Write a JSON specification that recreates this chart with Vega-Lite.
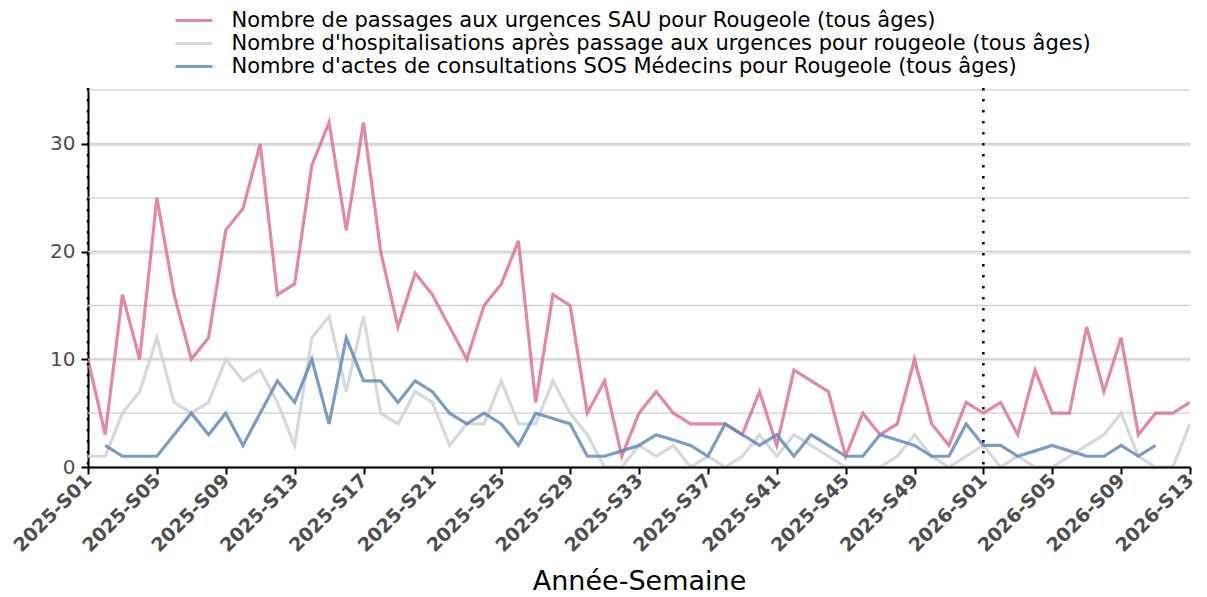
{
  "$schema": "https://vega.github.io/schema/vega-lite/v6.json",
  "width": 1102,
  "height": 379,
  "autosize": {"type": "none"},
  "padding": {"left": 88, "top": 88, "right": 17, "bottom": 130},
  "config": {"view": {"stroke": null}, "font": "DejaVu Sans"},
  "datasets": {
    "grid": [{"v": 5}, {"v": 10}, {"v": 15}, {"v": 20}, {"v": 25}, {"v": 30}, {"v": 35}],
    "vlines": [{"w": "2025-S01"}, {"w": "2026-S01"}],
    "series": [
      {"w": "2025-S01", "s": "Nombre de passages aux urgences SAU pour Rougeole (tous âges)", "v": 10},
      {"w": "2025-S02", "s": "Nombre de passages aux urgences SAU pour Rougeole (tous âges)", "v": 3},
      {"w": "2025-S03", "s": "Nombre de passages aux urgences SAU pour Rougeole (tous âges)", "v": 16},
      {"w": "2025-S04", "s": "Nombre de passages aux urgences SAU pour Rougeole (tous âges)", "v": 10},
      {"w": "2025-S05", "s": "Nombre de passages aux urgences SAU pour Rougeole (tous âges)", "v": 25},
      {"w": "2025-S06", "s": "Nombre de passages aux urgences SAU pour Rougeole (tous âges)", "v": 16},
      {"w": "2025-S07", "s": "Nombre de passages aux urgences SAU pour Rougeole (tous âges)", "v": 10},
      {"w": "2025-S08", "s": "Nombre de passages aux urgences SAU pour Rougeole (tous âges)", "v": 12},
      {"w": "2025-S09", "s": "Nombre de passages aux urgences SAU pour Rougeole (tous âges)", "v": 22},
      {"w": "2025-S10", "s": "Nombre de passages aux urgences SAU pour Rougeole (tous âges)", "v": 24},
      {"w": "2025-S11", "s": "Nombre de passages aux urgences SAU pour Rougeole (tous âges)", "v": 30},
      {"w": "2025-S12", "s": "Nombre de passages aux urgences SAU pour Rougeole (tous âges)", "v": 16},
      {"w": "2025-S13", "s": "Nombre de passages aux urgences SAU pour Rougeole (tous âges)", "v": 17},
      {"w": "2025-S14", "s": "Nombre de passages aux urgences SAU pour Rougeole (tous âges)", "v": 28},
      {"w": "2025-S15", "s": "Nombre de passages aux urgences SAU pour Rougeole (tous âges)", "v": 32},
      {"w": "2025-S16", "s": "Nombre de passages aux urgences SAU pour Rougeole (tous âges)", "v": 22},
      {"w": "2025-S17", "s": "Nombre de passages aux urgences SAU pour Rougeole (tous âges)", "v": 32},
      {"w": "2025-S18", "s": "Nombre de passages aux urgences SAU pour Rougeole (tous âges)", "v": 20},
      {"w": "2025-S19", "s": "Nombre de passages aux urgences SAU pour Rougeole (tous âges)", "v": 13},
      {"w": "2025-S20", "s": "Nombre de passages aux urgences SAU pour Rougeole (tous âges)", "v": 18},
      {"w": "2025-S21", "s": "Nombre de passages aux urgences SAU pour Rougeole (tous âges)", "v": 16},
      {"w": "2025-S22", "s": "Nombre de passages aux urgences SAU pour Rougeole (tous âges)", "v": 13},
      {"w": "2025-S23", "s": "Nombre de passages aux urgences SAU pour Rougeole (tous âges)", "v": 10},
      {"w": "2025-S24", "s": "Nombre de passages aux urgences SAU pour Rougeole (tous âges)", "v": 15},
      {"w": "2025-S25", "s": "Nombre de passages aux urgences SAU pour Rougeole (tous âges)", "v": 17},
      {"w": "2025-S26", "s": "Nombre de passages aux urgences SAU pour Rougeole (tous âges)", "v": 21},
      {"w": "2025-S27", "s": "Nombre de passages aux urgences SAU pour Rougeole (tous âges)", "v": 6},
      {"w": "2025-S28", "s": "Nombre de passages aux urgences SAU pour Rougeole (tous âges)", "v": 16},
      {"w": "2025-S29", "s": "Nombre de passages aux urgences SAU pour Rougeole (tous âges)", "v": 15},
      {"w": "2025-S30", "s": "Nombre de passages aux urgences SAU pour Rougeole (tous âges)", "v": 5},
      {"w": "2025-S31", "s": "Nombre de passages aux urgences SAU pour Rougeole (tous âges)", "v": 8},
      {"w": "2025-S32", "s": "Nombre de passages aux urgences SAU pour Rougeole (tous âges)", "v": 1},
      {"w": "2025-S33", "s": "Nombre de passages aux urgences SAU pour Rougeole (tous âges)", "v": 5},
      {"w": "2025-S34", "s": "Nombre de passages aux urgences SAU pour Rougeole (tous âges)", "v": 7},
      {"w": "2025-S35", "s": "Nombre de passages aux urgences SAU pour Rougeole (tous âges)", "v": 5},
      {"w": "2025-S36", "s": "Nombre de passages aux urgences SAU pour Rougeole (tous âges)", "v": 4},
      {"w": "2025-S37", "s": "Nombre de passages aux urgences SAU pour Rougeole (tous âges)", "v": 4},
      {"w": "2025-S38", "s": "Nombre de passages aux urgences SAU pour Rougeole (tous âges)", "v": 4},
      {"w": "2025-S39", "s": "Nombre de passages aux urgences SAU pour Rougeole (tous âges)", "v": 3},
      {"w": "2025-S40", "s": "Nombre de passages aux urgences SAU pour Rougeole (tous âges)", "v": 7},
      {"w": "2025-S41", "s": "Nombre de passages aux urgences SAU pour Rougeole (tous âges)", "v": 2},
      {"w": "2025-S42", "s": "Nombre de passages aux urgences SAU pour Rougeole (tous âges)", "v": 9},
      {"w": "2025-S43", "s": "Nombre de passages aux urgences SAU pour Rougeole (tous âges)", "v": 8},
      {"w": "2025-S44", "s": "Nombre de passages aux urgences SAU pour Rougeole (tous âges)", "v": 7},
      {"w": "2025-S45", "s": "Nombre de passages aux urgences SAU pour Rougeole (tous âges)", "v": 1},
      {"w": "2025-S46", "s": "Nombre de passages aux urgences SAU pour Rougeole (tous âges)", "v": 5},
      {"w": "2025-S47", "s": "Nombre de passages aux urgences SAU pour Rougeole (tous âges)", "v": 3},
      {"w": "2025-S48", "s": "Nombre de passages aux urgences SAU pour Rougeole (tous âges)", "v": 4},
      {"w": "2025-S49", "s": "Nombre de passages aux urgences SAU pour Rougeole (tous âges)", "v": 10},
      {"w": "2025-S50", "s": "Nombre de passages aux urgences SAU pour Rougeole (tous âges)", "v": 4},
      {"w": "2025-S51", "s": "Nombre de passages aux urgences SAU pour Rougeole (tous âges)", "v": 2},
      {"w": "2025-S52", "s": "Nombre de passages aux urgences SAU pour Rougeole (tous âges)", "v": 6},
      {"w": "2026-S01", "s": "Nombre de passages aux urgences SAU pour Rougeole (tous âges)", "v": 5},
      {"w": "2026-S02", "s": "Nombre de passages aux urgences SAU pour Rougeole (tous âges)", "v": 6},
      {"w": "2026-S03", "s": "Nombre de passages aux urgences SAU pour Rougeole (tous âges)", "v": 3},
      {"w": "2026-S04", "s": "Nombre de passages aux urgences SAU pour Rougeole (tous âges)", "v": 9},
      {"w": "2026-S05", "s": "Nombre de passages aux urgences SAU pour Rougeole (tous âges)", "v": 5},
      {"w": "2026-S06", "s": "Nombre de passages aux urgences SAU pour Rougeole (tous âges)", "v": 5},
      {"w": "2026-S07", "s": "Nombre de passages aux urgences SAU pour Rougeole (tous âges)", "v": 13},
      {"w": "2026-S08", "s": "Nombre de passages aux urgences SAU pour Rougeole (tous âges)", "v": 7},
      {"w": "2026-S09", "s": "Nombre de passages aux urgences SAU pour Rougeole (tous âges)", "v": 12},
      {"w": "2026-S10", "s": "Nombre de passages aux urgences SAU pour Rougeole (tous âges)", "v": 3},
      {"w": "2026-S11", "s": "Nombre de passages aux urgences SAU pour Rougeole (tous âges)", "v": 5},
      {"w": "2026-S12", "s": "Nombre de passages aux urgences SAU pour Rougeole (tous âges)", "v": 5},
      {"w": "2026-S13", "s": "Nombre de passages aux urgences SAU pour Rougeole (tous âges)", "v": 6},
      {"w": "2025-S01", "s": "Nombre d'hospitalisations après passage aux urgences pour rougeole (tous âges)", "v": 1},
      {"w": "2025-S02", "s": "Nombre d'hospitalisations après passage aux urgences pour rougeole (tous âges)", "v": 1},
      {"w": "2025-S03", "s": "Nombre d'hospitalisations après passage aux urgences pour rougeole (tous âges)", "v": 5},
      {"w": "2025-S04", "s": "Nombre d'hospitalisations après passage aux urgences pour rougeole (tous âges)", "v": 7},
      {"w": "2025-S05", "s": "Nombre d'hospitalisations après passage aux urgences pour rougeole (tous âges)", "v": 12},
      {"w": "2025-S06", "s": "Nombre d'hospitalisations après passage aux urgences pour rougeole (tous âges)", "v": 6},
      {"w": "2025-S07", "s": "Nombre d'hospitalisations après passage aux urgences pour rougeole (tous âges)", "v": 5},
      {"w": "2025-S08", "s": "Nombre d'hospitalisations après passage aux urgences pour rougeole (tous âges)", "v": 6},
      {"w": "2025-S09", "s": "Nombre d'hospitalisations après passage aux urgences pour rougeole (tous âges)", "v": 10},
      {"w": "2025-S10", "s": "Nombre d'hospitalisations après passage aux urgences pour rougeole (tous âges)", "v": 8},
      {"w": "2025-S11", "s": "Nombre d'hospitalisations après passage aux urgences pour rougeole (tous âges)", "v": 9},
      {"w": "2025-S12", "s": "Nombre d'hospitalisations après passage aux urgences pour rougeole (tous âges)", "v": 6},
      {"w": "2025-S13", "s": "Nombre d'hospitalisations après passage aux urgences pour rougeole (tous âges)", "v": 2},
      {"w": "2025-S14", "s": "Nombre d'hospitalisations après passage aux urgences pour rougeole (tous âges)", "v": 12},
      {"w": "2025-S15", "s": "Nombre d'hospitalisations après passage aux urgences pour rougeole (tous âges)", "v": 14},
      {"w": "2025-S16", "s": "Nombre d'hospitalisations après passage aux urgences pour rougeole (tous âges)", "v": 7},
      {"w": "2025-S17", "s": "Nombre d'hospitalisations après passage aux urgences pour rougeole (tous âges)", "v": 14},
      {"w": "2025-S18", "s": "Nombre d'hospitalisations après passage aux urgences pour rougeole (tous âges)", "v": 5},
      {"w": "2025-S19", "s": "Nombre d'hospitalisations après passage aux urgences pour rougeole (tous âges)", "v": 4},
      {"w": "2025-S20", "s": "Nombre d'hospitalisations après passage aux urgences pour rougeole (tous âges)", "v": 7},
      {"w": "2025-S21", "s": "Nombre d'hospitalisations après passage aux urgences pour rougeole (tous âges)", "v": 6},
      {"w": "2025-S22", "s": "Nombre d'hospitalisations après passage aux urgences pour rougeole (tous âges)", "v": 2},
      {"w": "2025-S23", "s": "Nombre d'hospitalisations après passage aux urgences pour rougeole (tous âges)", "v": 4},
      {"w": "2025-S24", "s": "Nombre d'hospitalisations après passage aux urgences pour rougeole (tous âges)", "v": 4},
      {"w": "2025-S25", "s": "Nombre d'hospitalisations après passage aux urgences pour rougeole (tous âges)", "v": 8},
      {"w": "2025-S26", "s": "Nombre d'hospitalisations après passage aux urgences pour rougeole (tous âges)", "v": 4},
      {"w": "2025-S27", "s": "Nombre d'hospitalisations après passage aux urgences pour rougeole (tous âges)", "v": 4},
      {"w": "2025-S28", "s": "Nombre d'hospitalisations après passage aux urgences pour rougeole (tous âges)", "v": 8},
      {"w": "2025-S29", "s": "Nombre d'hospitalisations après passage aux urgences pour rougeole (tous âges)", "v": 5},
      {"w": "2025-S30", "s": "Nombre d'hospitalisations après passage aux urgences pour rougeole (tous âges)", "v": 3},
      {"w": "2025-S31", "s": "Nombre d'hospitalisations après passage aux urgences pour rougeole (tous âges)", "v": 0},
      {"w": "2025-S32", "s": "Nombre d'hospitalisations après passage aux urgences pour rougeole (tous âges)", "v": 0},
      {"w": "2025-S33", "s": "Nombre d'hospitalisations après passage aux urgences pour rougeole (tous âges)", "v": 2},
      {"w": "2025-S34", "s": "Nombre d'hospitalisations après passage aux urgences pour rougeole (tous âges)", "v": 1},
      {"w": "2025-S35", "s": "Nombre d'hospitalisations après passage aux urgences pour rougeole (tous âges)", "v": 2},
      {"w": "2025-S36", "s": "Nombre d'hospitalisations après passage aux urgences pour rougeole (tous âges)", "v": 0},
      {"w": "2025-S37", "s": "Nombre d'hospitalisations après passage aux urgences pour rougeole (tous âges)", "v": 1},
      {"w": "2025-S38", "s": "Nombre d'hospitalisations après passage aux urgences pour rougeole (tous âges)", "v": 0},
      {"w": "2025-S39", "s": "Nombre d'hospitalisations après passage aux urgences pour rougeole (tous âges)", "v": 1},
      {"w": "2025-S40", "s": "Nombre d'hospitalisations après passage aux urgences pour rougeole (tous âges)", "v": 3},
      {"w": "2025-S41", "s": "Nombre d'hospitalisations après passage aux urgences pour rougeole (tous âges)", "v": 1},
      {"w": "2025-S42", "s": "Nombre d'hospitalisations après passage aux urgences pour rougeole (tous âges)", "v": 3},
      {"w": "2025-S43", "s": "Nombre d'hospitalisations après passage aux urgences pour rougeole (tous âges)", "v": 2},
      {"w": "2025-S44", "s": "Nombre d'hospitalisations après passage aux urgences pour rougeole (tous âges)", "v": 1},
      {"w": "2025-S45", "s": "Nombre d'hospitalisations après passage aux urgences pour rougeole (tous âges)", "v": 0},
      {"w": "2025-S46", "s": "Nombre d'hospitalisations après passage aux urgences pour rougeole (tous âges)", "v": 0},
      {"w": "2025-S47", "s": "Nombre d'hospitalisations après passage aux urgences pour rougeole (tous âges)", "v": 0},
      {"w": "2025-S48", "s": "Nombre d'hospitalisations après passage aux urgences pour rougeole (tous âges)", "v": 1},
      {"w": "2025-S49", "s": "Nombre d'hospitalisations après passage aux urgences pour rougeole (tous âges)", "v": 3},
      {"w": "2025-S50", "s": "Nombre d'hospitalisations après passage aux urgences pour rougeole (tous âges)", "v": 1},
      {"w": "2025-S51", "s": "Nombre d'hospitalisations après passage aux urgences pour rougeole (tous âges)", "v": 0},
      {"w": "2025-S52", "s": "Nombre d'hospitalisations après passage aux urgences pour rougeole (tous âges)", "v": 1},
      {"w": "2026-S01", "s": "Nombre d'hospitalisations après passage aux urgences pour rougeole (tous âges)", "v": 2},
      {"w": "2026-S02", "s": "Nombre d'hospitalisations après passage aux urgences pour rougeole (tous âges)", "v": 0},
      {"w": "2026-S03", "s": "Nombre d'hospitalisations après passage aux urgences pour rougeole (tous âges)", "v": 1},
      {"w": "2026-S04", "s": "Nombre d'hospitalisations après passage aux urgences pour rougeole (tous âges)", "v": 0},
      {"w": "2026-S05", "s": "Nombre d'hospitalisations après passage aux urgences pour rougeole (tous âges)", "v": 0},
      {"w": "2026-S06", "s": "Nombre d'hospitalisations après passage aux urgences pour rougeole (tous âges)", "v": 1},
      {"w": "2026-S07", "s": "Nombre d'hospitalisations après passage aux urgences pour rougeole (tous âges)", "v": 2},
      {"w": "2026-S08", "s": "Nombre d'hospitalisations après passage aux urgences pour rougeole (tous âges)", "v": 3},
      {"w": "2026-S09", "s": "Nombre d'hospitalisations après passage aux urgences pour rougeole (tous âges)", "v": 5},
      {"w": "2026-S10", "s": "Nombre d'hospitalisations après passage aux urgences pour rougeole (tous âges)", "v": 1},
      {"w": "2026-S11", "s": "Nombre d'hospitalisations après passage aux urgences pour rougeole (tous âges)", "v": 0},
      {"w": "2026-S12", "s": "Nombre d'hospitalisations après passage aux urgences pour rougeole (tous âges)", "v": 0},
      {"w": "2026-S13", "s": "Nombre d'hospitalisations après passage aux urgences pour rougeole (tous âges)", "v": 4},
      {"w": "2025-S02", "s": "Nombre d'actes de consultations SOS Médecins pour Rougeole (tous âges)", "v": 2},
      {"w": "2025-S03", "s": "Nombre d'actes de consultations SOS Médecins pour Rougeole (tous âges)", "v": 1},
      {"w": "2025-S04", "s": "Nombre d'actes de consultations SOS Médecins pour Rougeole (tous âges)", "v": 1},
      {"w": "2025-S05", "s": "Nombre d'actes de consultations SOS Médecins pour Rougeole (tous âges)", "v": 1},
      {"w": "2025-S06", "s": "Nombre d'actes de consultations SOS Médecins pour Rougeole (tous âges)", "v": 3},
      {"w": "2025-S07", "s": "Nombre d'actes de consultations SOS Médecins pour Rougeole (tous âges)", "v": 5},
      {"w": "2025-S08", "s": "Nombre d'actes de consultations SOS Médecins pour Rougeole (tous âges)", "v": 3},
      {"w": "2025-S09", "s": "Nombre d'actes de consultations SOS Médecins pour Rougeole (tous âges)", "v": 5},
      {"w": "2025-S10", "s": "Nombre d'actes de consultations SOS Médecins pour Rougeole (tous âges)", "v": 2},
      {"w": "2025-S11", "s": "Nombre d'actes de consultations SOS Médecins pour Rougeole (tous âges)", "v": 5},
      {"w": "2025-S12", "s": "Nombre d'actes de consultations SOS Médecins pour Rougeole (tous âges)", "v": 8},
      {"w": "2025-S13", "s": "Nombre d'actes de consultations SOS Médecins pour Rougeole (tous âges)", "v": 6},
      {"w": "2025-S14", "s": "Nombre d'actes de consultations SOS Médecins pour Rougeole (tous âges)", "v": 10},
      {"w": "2025-S15", "s": "Nombre d'actes de consultations SOS Médecins pour Rougeole (tous âges)", "v": 4},
      {"w": "2025-S16", "s": "Nombre d'actes de consultations SOS Médecins pour Rougeole (tous âges)", "v": 12},
      {"w": "2025-S17", "s": "Nombre d'actes de consultations SOS Médecins pour Rougeole (tous âges)", "v": 8},
      {"w": "2025-S18", "s": "Nombre d'actes de consultations SOS Médecins pour Rougeole (tous âges)", "v": 8},
      {"w": "2025-S19", "s": "Nombre d'actes de consultations SOS Médecins pour Rougeole (tous âges)", "v": 6},
      {"w": "2025-S20", "s": "Nombre d'actes de consultations SOS Médecins pour Rougeole (tous âges)", "v": 8},
      {"w": "2025-S21", "s": "Nombre d'actes de consultations SOS Médecins pour Rougeole (tous âges)", "v": 7},
      {"w": "2025-S22", "s": "Nombre d'actes de consultations SOS Médecins pour Rougeole (tous âges)", "v": 5},
      {"w": "2025-S23", "s": "Nombre d'actes de consultations SOS Médecins pour Rougeole (tous âges)", "v": 4},
      {"w": "2025-S24", "s": "Nombre d'actes de consultations SOS Médecins pour Rougeole (tous âges)", "v": 5},
      {"w": "2025-S25", "s": "Nombre d'actes de consultations SOS Médecins pour Rougeole (tous âges)", "v": 4},
      {"w": "2025-S26", "s": "Nombre d'actes de consultations SOS Médecins pour Rougeole (tous âges)", "v": 2},
      {"w": "2025-S27", "s": "Nombre d'actes de consultations SOS Médecins pour Rougeole (tous âges)", "v": 5},
      {"w": "2025-S28", "s": "Nombre d'actes de consultations SOS Médecins pour Rougeole (tous âges)", "v": 4.5},
      {"w": "2025-S29", "s": "Nombre d'actes de consultations SOS Médecins pour Rougeole (tous âges)", "v": 4},
      {"w": "2025-S30", "s": "Nombre d'actes de consultations SOS Médecins pour Rougeole (tous âges)", "v": 1},
      {"w": "2025-S31", "s": "Nombre d'actes de consultations SOS Médecins pour Rougeole (tous âges)", "v": 1},
      {"w": "2025-S32", "s": "Nombre d'actes de consultations SOS Médecins pour Rougeole (tous âges)", "v": 1.5},
      {"w": "2025-S33", "s": "Nombre d'actes de consultations SOS Médecins pour Rougeole (tous âges)", "v": 2},
      {"w": "2025-S34", "s": "Nombre d'actes de consultations SOS Médecins pour Rougeole (tous âges)", "v": 3},
      {"w": "2025-S35", "s": "Nombre d'actes de consultations SOS Médecins pour Rougeole (tous âges)", "v": 2.5},
      {"w": "2025-S36", "s": "Nombre d'actes de consultations SOS Médecins pour Rougeole (tous âges)", "v": 2},
      {"w": "2025-S37", "s": "Nombre d'actes de consultations SOS Médecins pour Rougeole (tous âges)", "v": 1},
      {"w": "2025-S38", "s": "Nombre d'actes de consultations SOS Médecins pour Rougeole (tous âges)", "v": 4},
      {"w": "2025-S39", "s": "Nombre d'actes de consultations SOS Médecins pour Rougeole (tous âges)", "v": 3},
      {"w": "2025-S40", "s": "Nombre d'actes de consultations SOS Médecins pour Rougeole (tous âges)", "v": 2},
      {"w": "2025-S41", "s": "Nombre d'actes de consultations SOS Médecins pour Rougeole (tous âges)", "v": 3},
      {"w": "2025-S42", "s": "Nombre d'actes de consultations SOS Médecins pour Rougeole (tous âges)", "v": 1},
      {"w": "2025-S43", "s": "Nombre d'actes de consultations SOS Médecins pour Rougeole (tous âges)", "v": 3},
      {"w": "2025-S44", "s": "Nombre d'actes de consultations SOS Médecins pour Rougeole (tous âges)", "v": 2},
      {"w": "2025-S45", "s": "Nombre d'actes de consultations SOS Médecins pour Rougeole (tous âges)", "v": 1},
      {"w": "2025-S46", "s": "Nombre d'actes de consultations SOS Médecins pour Rougeole (tous âges)", "v": 1},
      {"w": "2025-S47", "s": "Nombre d'actes de consultations SOS Médecins pour Rougeole (tous âges)", "v": 3},
      {"w": "2025-S48", "s": "Nombre d'actes de consultations SOS Médecins pour Rougeole (tous âges)", "v": 2.5},
      {"w": "2025-S49", "s": "Nombre d'actes de consultations SOS Médecins pour Rougeole (tous âges)", "v": 2},
      {"w": "2025-S50", "s": "Nombre d'actes de consultations SOS Médecins pour Rougeole (tous âges)", "v": 1},
      {"w": "2025-S51", "s": "Nombre d'actes de consultations SOS Médecins pour Rougeole (tous âges)", "v": 1},
      {"w": "2025-S52", "s": "Nombre d'actes de consultations SOS Médecins pour Rougeole (tous âges)", "v": 4},
      {"w": "2026-S01", "s": "Nombre d'actes de consultations SOS Médecins pour Rougeole (tous âges)", "v": 2},
      {"w": "2026-S02", "s": "Nombre d'actes de consultations SOS Médecins pour Rougeole (tous âges)", "v": 2},
      {"w": "2026-S03", "s": "Nombre d'actes de consultations SOS Médecins pour Rougeole (tous âges)", "v": 1},
      {"w": "2026-S04", "s": "Nombre d'actes de consultations SOS Médecins pour Rougeole (tous âges)", "v": 1.5},
      {"w": "2026-S05", "s": "Nombre d'actes de consultations SOS Médecins pour Rougeole (tous âges)", "v": 2},
      {"w": "2026-S06", "s": "Nombre d'actes de consultations SOS Médecins pour Rougeole (tous âges)", "v": 1.5},
      {"w": "2026-S07", "s": "Nombre d'actes de consultations SOS Médecins pour Rougeole (tous âges)", "v": 1},
      {"w": "2026-S08", "s": "Nombre d'actes de consultations SOS Médecins pour Rougeole (tous âges)", "v": 1},
      {"w": "2026-S09", "s": "Nombre d'actes de consultations SOS Médecins pour Rougeole (tous âges)", "v": 2},
      {"w": "2026-S10", "s": "Nombre d'actes de consultations SOS Médecins pour Rougeole (tous âges)", "v": 1},
      {"w": "2026-S11", "s": "Nombre d'actes de consultations SOS Médecins pour Rougeole (tous âges)", "v": 2}
    ]
  },
  "layer": [
    {
      "data": {"name": "grid"},
      "mark": {"type": "rule", "color": "#d0d0d0", "strokeWidth": 1.3},
      "encoding": {
        "y": {
          "field": "v", "type": "quantitative",
          "scale": {"domain": [0, 35.2], "nice": false, "zero": true},
          "axis": {
            "values": [0, 10, 20, 30], "title": null,
            "labelFontSize": 20, "labelColor": "#4d4d4d", "labelFont": "DejaVu Sans", "labelPadding": 6,
            "domainColor": "black", "domainWidth": 2, "tickColor": "black", "tickWidth": 2, "tickSize": 7,
            "grid": true, "gridColor": "#e8e8e8", "gridWidth": 4
          }
        }
      }
    },
    {
      "data": {"name": "series"},
      "mark": {"type": "line", "strokeWidth": 3.2, "opacity": 0.82, "clip": true},
      "encoding": {
        "x": {
          "field": "w", "type": "ordinal",
          "scale": {"type": "point", "padding": 0, "domain": ["2025-S01","2025-S02","2025-S03","2025-S04","2025-S05","2025-S06","2025-S07","2025-S08","2025-S09","2025-S10","2025-S11","2025-S12","2025-S13","2025-S14","2025-S15","2025-S16","2025-S17","2025-S18","2025-S19","2025-S20","2025-S21","2025-S22","2025-S23","2025-S24","2025-S25","2025-S26","2025-S27","2025-S28","2025-S29","2025-S30","2025-S31","2025-S32","2025-S33","2025-S34","2025-S35","2025-S36","2025-S37","2025-S38","2025-S39","2025-S40","2025-S41","2025-S42","2025-S43","2025-S44","2025-S45","2025-S46","2025-S47","2025-S48","2025-S49","2025-S50","2025-S51","2025-S52","2026-S01","2026-S02","2026-S03","2026-S04","2026-S05","2026-S06","2026-S07","2026-S08","2026-S09","2026-S10","2026-S11","2026-S12","2026-S13"]},
          "axis": {
            "values": ["2025-S01","2025-S05","2025-S09","2025-S13","2025-S17","2025-S21","2025-S25","2025-S29","2025-S33","2025-S37","2025-S41","2025-S45","2025-S49","2026-S01","2026-S05","2026-S09","2026-S13"],
            "labelAngle": -45, "labelFontSize": 19, "labelFontWeight": "bold", "labelColor": "#4d4d4d",
            "labelFont": "DejaVu Sans", "labelPadding": 3, "labelBaseline": "middle",
            "domainColor": "black", "domainWidth": 2, "tickColor": "black", "tickWidth": 2, "tickSize": 7,
            "grid": false, "zindex": 1,
            "title": "Année-Semaine", "titleFontSize": 27, "titleFontWeight": "normal", "titleColor": "black",
            "titleFont": "DejaVu Sans", "titlePadding": 13
          }
        },
        "y": {
          "field": "v", "type": "quantitative",
          "scale": {"domain": [0, 35.2], "nice": false, "zero": true},
          "axis": {
            "values": [0, 10, 20, 30], "title": null,
            "labelFontSize": 20, "labelColor": "#4d4d4d", "labelFont": "DejaVu Sans", "labelPadding": 6,
            "domainColor": "black", "domainWidth": 2, "tickColor": "black", "tickWidth": 2, "tickSize": 7,
            "grid": true, "gridColor": "#e8e8e8", "gridWidth": 4
          }
        },
        "color": {
          "field": "s", "type": "nominal",
          "scale": {
            "domain": ["Nombre de passages aux urgences SAU pour Rougeole (tous âges)", "Nombre d'hospitalisations après passage aux urgences pour rougeole (tous âges)", "Nombre d'actes de consultations SOS Médecins pour Rougeole (tous âges)"],
            "range": ["#dc6d98", "#cdd0d7", "#5f88b3"]
          },
          "legend": {
            "orient": "none", "legendX": 94.5, "legendY": -79, "title": null,
            "symbolType": "M-1.85,0H1.85", "symbolStrokeWidth": 3, "symbolSize": 400,
            "labelFontSize": 21, "labelFont": "DejaVu Sans", "labelColor": "black", "labelOffset": 26,
            "labelLimit": 0, "rowPadding": 1
          }
        }
      }
    },
    {
      "data": {"name": "vlines"},
      "mark": {"type": "rule", "color": "black", "strokeWidth": 2.5, "strokeDash": [2.5, 8.5]},
      "encoding": {
        "x": {"field": "w", "type": "ordinal",
          "scale": {"type": "point", "padding": 0, "domain": ["2025-S01","2025-S02","2025-S03","2025-S04","2025-S05","2025-S06","2025-S07","2025-S08","2025-S09","2025-S10","2025-S11","2025-S12","2025-S13","2025-S14","2025-S15","2025-S16","2025-S17","2025-S18","2025-S19","2025-S20","2025-S21","2025-S22","2025-S23","2025-S24","2025-S25","2025-S26","2025-S27","2025-S28","2025-S29","2025-S30","2025-S31","2025-S32","2025-S33","2025-S34","2025-S35","2025-S36","2025-S37","2025-S38","2025-S39","2025-S40","2025-S41","2025-S42","2025-S43","2025-S44","2025-S45","2025-S46","2025-S47","2025-S48","2025-S49","2025-S50","2025-S51","2025-S52","2026-S01","2026-S02","2026-S03","2026-S04","2026-S05","2026-S06","2026-S07","2026-S08","2026-S09","2026-S10","2026-S11","2026-S12","2026-S13"]},
          "axis": {
            "values": ["2025-S01","2025-S05","2025-S09","2025-S13","2025-S17","2025-S21","2025-S25","2025-S29","2025-S33","2025-S37","2025-S41","2025-S45","2025-S49","2026-S01","2026-S05","2026-S09","2026-S13"],
            "labelAngle": -45, "labelFontSize": 19, "labelFontWeight": "bold", "labelColor": "#4d4d4d",
            "labelFont": "DejaVu Sans", "labelPadding": 3, "labelBaseline": "middle",
            "domainColor": "black", "domainWidth": 2, "tickColor": "black", "tickWidth": 2, "tickSize": 7,
            "grid": false, "zindex": 1,
            "title": "Année-Semaine", "titleFontSize": 27, "titleFontWeight": "normal", "titleColor": "black",
            "titleFont": "DejaVu Sans", "titlePadding": 13
          }
        }
      }
    }
  ]
}
